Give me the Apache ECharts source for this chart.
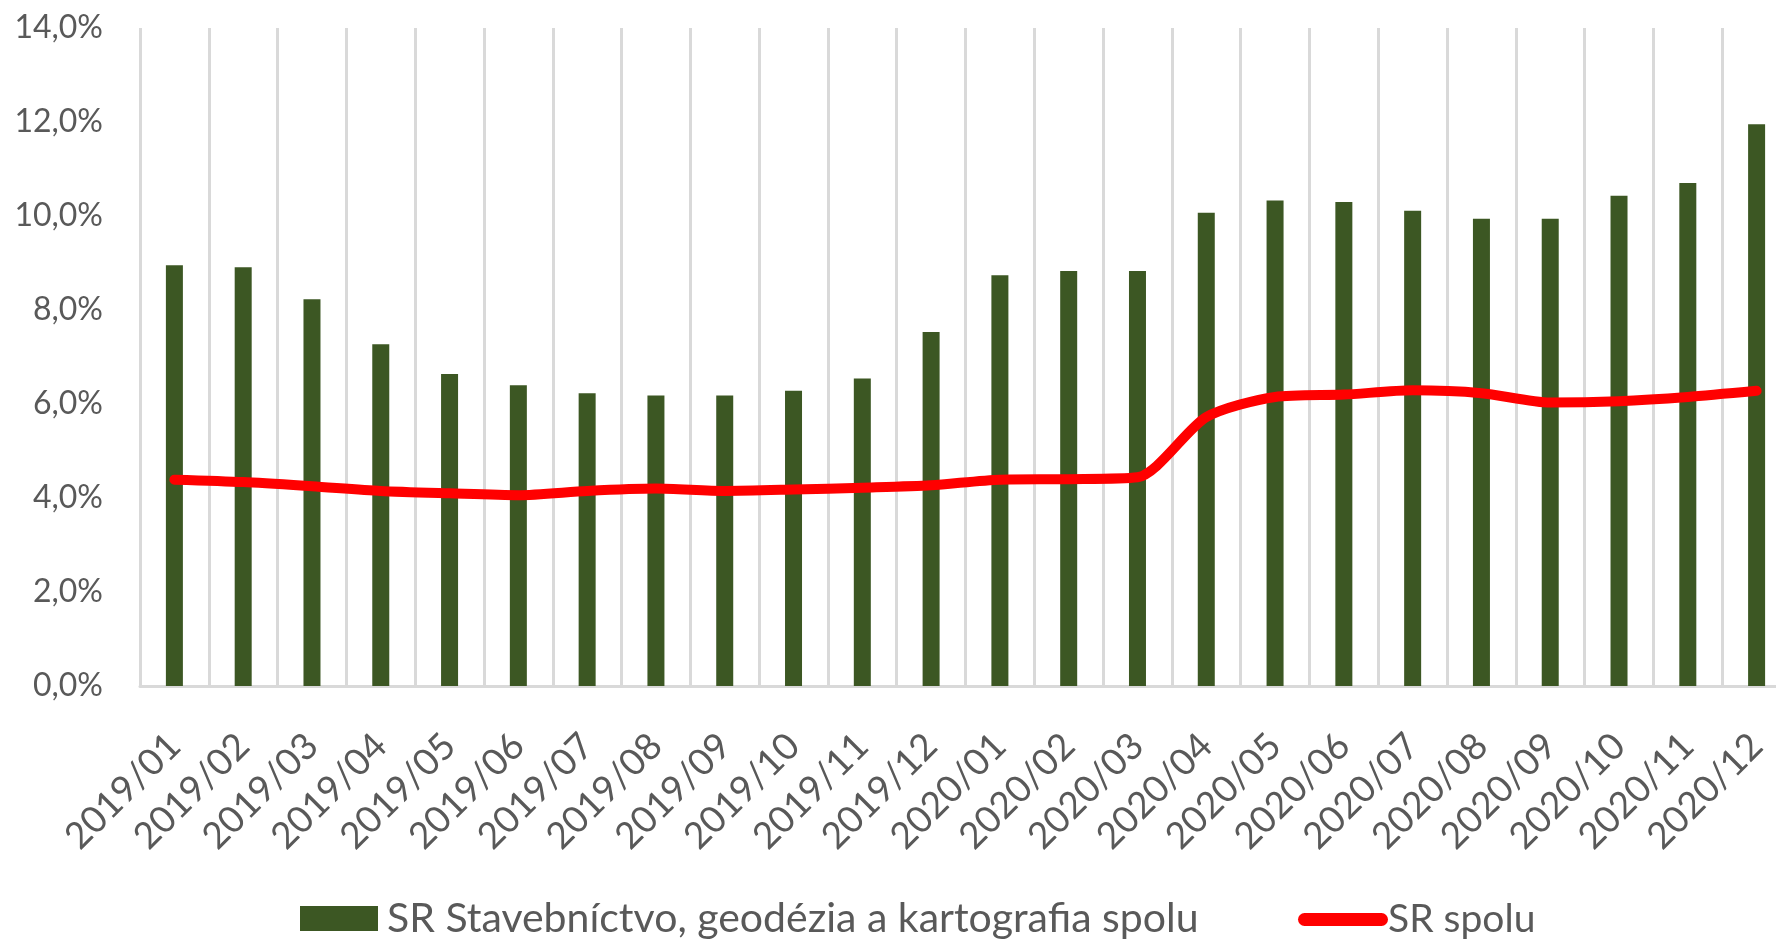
<!DOCTYPE html>
<html>
<head>
<meta charset="utf-8">
<script src="https://cdn.jsdelivr.net/npm/echarts@6/dist/echarts.min.js"></script>
<style>
html,body{margin:0;padding:0;background:#fff;}
#c{width:1776px;height:942px;}
</style>
</head>
<body>
<div id="c"></div>
<script>
var categories = ['2019/01','2019/02','2019/03','2019/04','2019/05','2019/06','2019/07','2019/08','2019/09','2019/10','2019/11','2019/12',
                  '2020/01','2020/02','2020/03','2020/04','2020/05','2020/06','2020/07','2020/08','2020/09','2020/10','2020/11','2020/12'];
var barName = 'SR Stavebníctvo, geodézia a kartografia spolu';
var lineName = 'SR spolu';
var barValues = [8.95, 8.91, 8.23, 7.27, 6.64, 6.40, 6.23, 6.18, 6.18, 6.28, 6.54, 7.53,
                 8.74, 8.83, 8.83, 10.07, 10.33, 10.30, 10.11, 9.94, 9.94, 10.43, 10.70, 11.95];
var lineValues = [4.39, 4.34, 4.25, 4.15, 4.10, 4.06, 4.15, 4.20, 4.15, 4.18, 4.22, 4.27,
                  4.39, 4.40, 4.44, 5.72, 6.15, 6.20, 6.29, 6.23, 6.03, 6.06, 6.15, 6.28];
var yTicks = {min: 0, max: 14, interval: 2};

var FONT = 'Lato';
var TXT = '#595959';
var chart = echarts.init(document.getElementById('c'), null, {renderer: 'canvas'});
chart.setOption({
  animation: false,
  backgroundColor: '#ffffff',
  grid: {left: 140, right: -15, top: 28, bottom: 256, containLabel: false, outerBoundsMode: 'none'},
  legend: [
    {
      data: [barName], left: 295, top: 893, itemWidth: 78, itemHeight: 25, itemGap: 0,
      icon: 'rect',
      textStyle: {fontFamily: FONT, fontSize: 41, color: TXT, padding: [0, 0, 0, 4]}
    },
    {
      data: [{name: lineName, icon: 'path://M6.5,0 L83.5,0 A6.5,6.5 0 0 1 83.5,13 L6.5,13 A6.5,6.5 0 0 1 6.5,0 Z'}],
      left: 1293, top: 895, itemWidth: 90, itemHeight: 13, symbolKeepAspect: false,
      textStyle: {fontFamily: FONT, fontSize: 39, color: TXT, padding: [0, 0, 0, -5]}
    }
  ],
  xAxis: {
    type: 'category',
    data: categories,
    boundaryGap: true,
    axisLine: {show: true, lineStyle: {color: '#d9d9d9', width: 3}},
    axisTick: {show: false},
    splitLine: {show: true, lineStyle: {color: '#d9d9d9', width: 3}},
    axisLabel: {rotate: 45, interval: 0, margin: 54, fontFamily: FONT, fontSize: 37, color: TXT}
  },
  yAxis: {
    type: 'value',
    min: yTicks.min, max: yTicks.max, interval: yTicks.interval,
    axisLine: {show: false},
    axisTick: {show: false},
    splitLine: {show: false},
    axisLabel: {
      margin: 37, fontFamily: FONT, fontSize: 32, color: TXT,
      formatter: function (v) { return v.toFixed(1).replace('.', ',') + '%'; }
    }
  },
  series: [
    {
      name: barName, type: 'bar', data: barValues, barWidth: 17,
      itemStyle: {color: '#3c5723'}
    },
    {
      name: lineName, type: 'line', data: lineValues, smooth: 0.25,
      symbol: 'none', showSymbol: false,
      lineStyle: {color: '#ff0000', width: 10, cap: 'round', join: 'round'},
      itemStyle: {color: '#ff0000'}, z: 5
    }
  ]
});
</script>
</body>
</html>
